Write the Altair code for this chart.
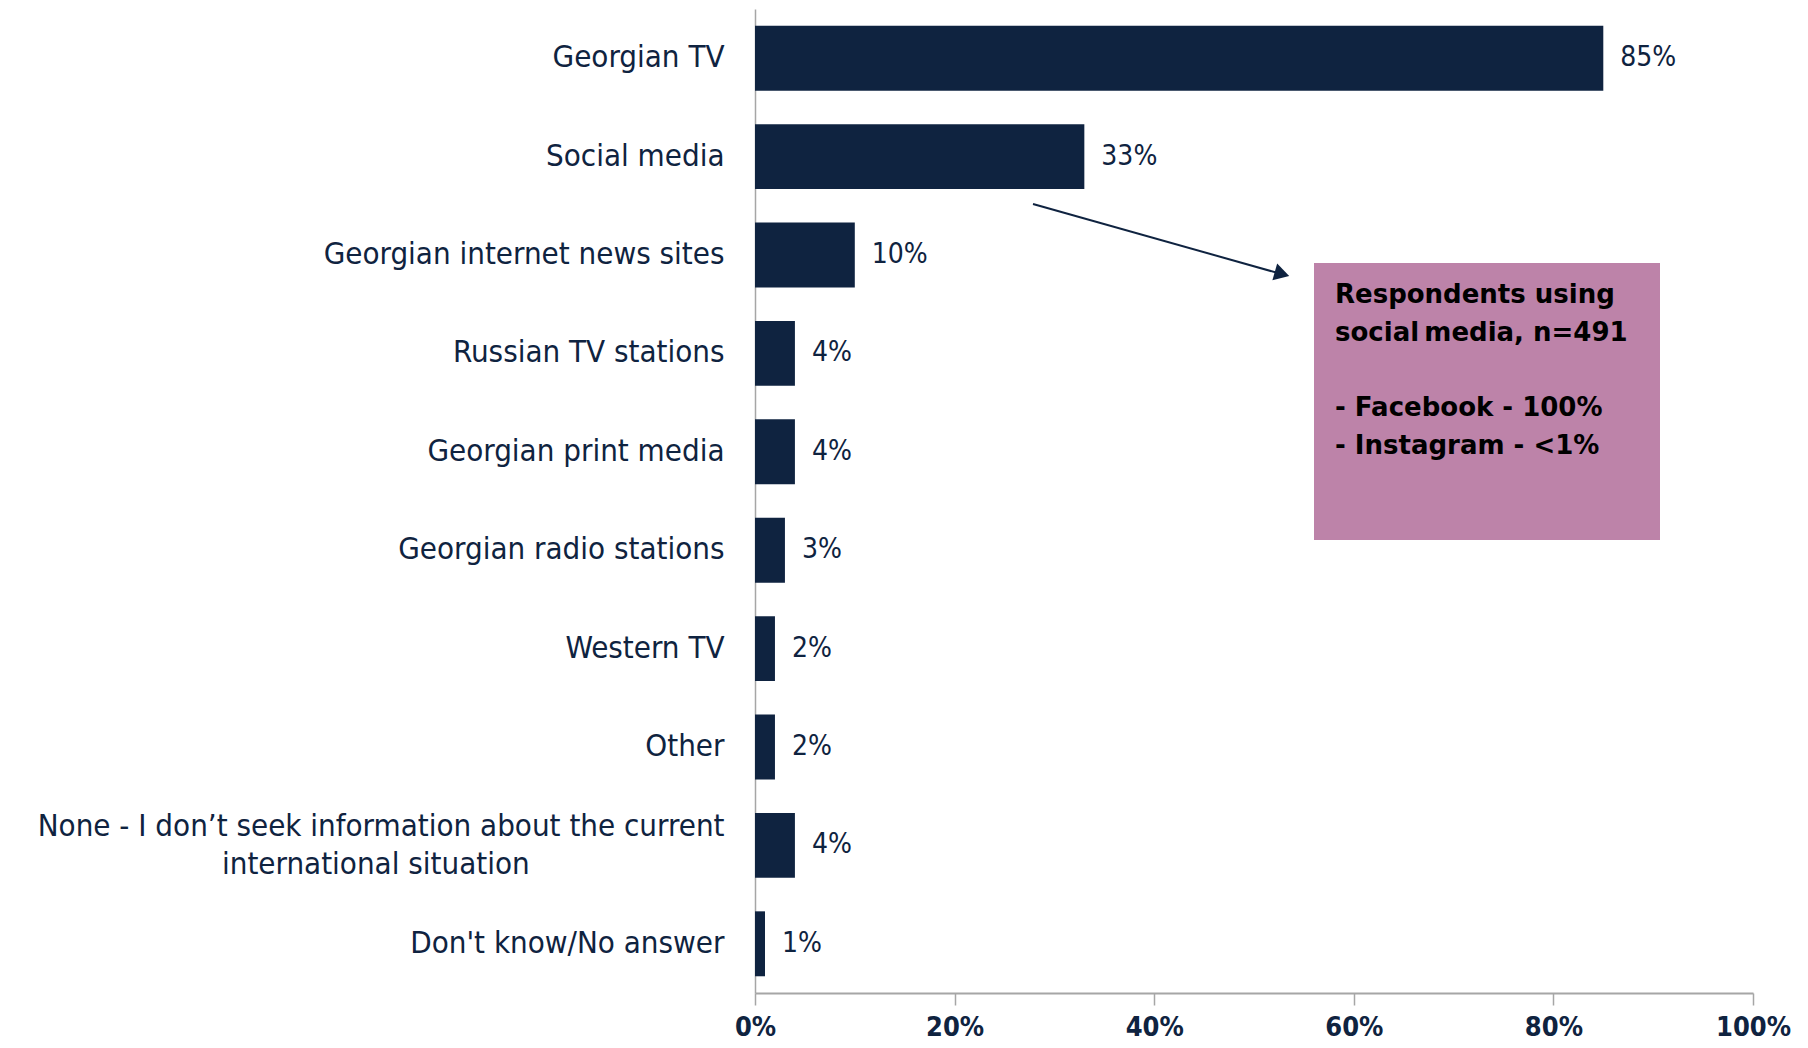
import altair as alt
import pandas as pd

NBSP = "\u00a0"
categories = [
    "Georgian TV",
    "Social media",
    "Georgian internet news sites",
    "Russian TV stations",
    "Georgian print media",
    "Georgian radio stations",
    "Western TV",
    "Other",
    "None - I don\u2019t seek information about the current|international situation" + NBSP * 22 + "\u200b",
    "Don't know/No answer",
]
values = [85, 33, 10, 4, 4, 3, 2, 2, 4, 1]
value_labels = ["85%", "33%", "10%", "4%", "4%", "3%", "2%", "2%", "4%", "1%"]
x_ticks = [0, 20, 40, 60, 80, 100]
note_head = ["Respondents using", "social\u2009media, n=491"]
note_items = ["- Facebook - 100%", "- Instagram - <1%"]

df = pd.DataFrame({"cat": categories, "val": values, "lab": value_labels})

NAVY = "#0f2340"
GREY = "#a6a6a6"
FONT = "DejaVu Sans Condensed, Liberation Sans Narrow, DejaVu Sans"
W, H = 998, 984

x_scale = alt.Scale(domain=[0, 100], nice=False)
y_enc = alt.Y(
    "cat:N",
    sort=categories,
    scale=alt.Scale(paddingInner=0.34, paddingOuter=0.17),
    axis=alt.Axis(
        title=None,
        ticks=False,
        domainColor=GREY,
        domainWidth=1.5,
        labelFont=FONT,
        labelFontSize=31,
        labelColor=NAVY,
        labelPadding=31,
        labelLimit=2000,
        labelLineHeight=38,
        labelOffset={"condition": {"test": "indexof(datum.value, 'None') == 0", "value": -18}, "value": 0},
        labelExpr="split(datum.label, '|')",
    ),
)

bars = alt.Chart(df).mark_bar(color=NAVY).encode(
    x=alt.X(
        "val:Q",
        scale=x_scale,
        axis=alt.Axis(
            title=None,
            values=x_ticks,
            grid=False,
            domainColor=GREY,
            domainWidth=2,
            tickColor=GREY,
            tickWidth=1.5,
            tickSize=12,
            labelFont=FONT,
            labelFontWeight="bold",
            labelFontSize=27,
            labelColor=NAVY,
            labelPadding=9,
            labelExpr="datum.value + '%'",
            labelFlush=False,
        ),
    ),
    y=y_enc,
)

texts = alt.Chart(df).mark_text(
    align="left", baseline="middle", dx=17, font=FONT, fontSize=28, color=NAVY
).encode(x=alt.X("val:Q", scale=x_scale), y=alt.Y("cat:N", sort=categories), text="lab:N")

box = alt.Chart(df.head(1)).mark_rect(color="#bd83a9").encode(
    x=alt.value(559), x2=alt.value(905), y=alt.value(254), y2=alt.value(531)
)

note_style = dict(
    align="left",
    baseline="middle",
    font="DejaVu Sans",
    fontWeight="bold",
    fontSize=26,
    lineHeight=38,
    color="#000000",
)
note1 = alt.Chart(df.head(1)).mark_text(text=note_head, **note_style).encode(
    x=alt.value(580), y=alt.value(286)
)
note2 = alt.Chart(df.head(1)).mark_text(text=note_items, **note_style).encode(
    x=alt.value(580), y=alt.value(399)
)

arrow = alt.Chart(df.head(1)).mark_rule(color=NAVY, strokeWidth=2).encode(
    x=alt.value(278), y=alt.value(195), x2=alt.value(530), y2=alt.value(266)
)
head = alt.Chart(df.head(1)).mark_point(
    shape="triangle-right", filled=True, color=NAVY, opacity=1, size=300, angle=16
).encode(x=alt.value(527), y=alt.value(265))

chart = (
    alt.layer(bars, texts, arrow, head, box, note1, note2)
    .properties(
        width=W,
        height=H,
        autosize=alt.AutoSizeParams(type="none"),
        padding={"left": 747, "top": 1, "right": 45, "bottom": 48},
    )
    .configure_view(stroke=None)
)

chart.save("out.html", embed_options={"renderer": "svg", "actions": False})
